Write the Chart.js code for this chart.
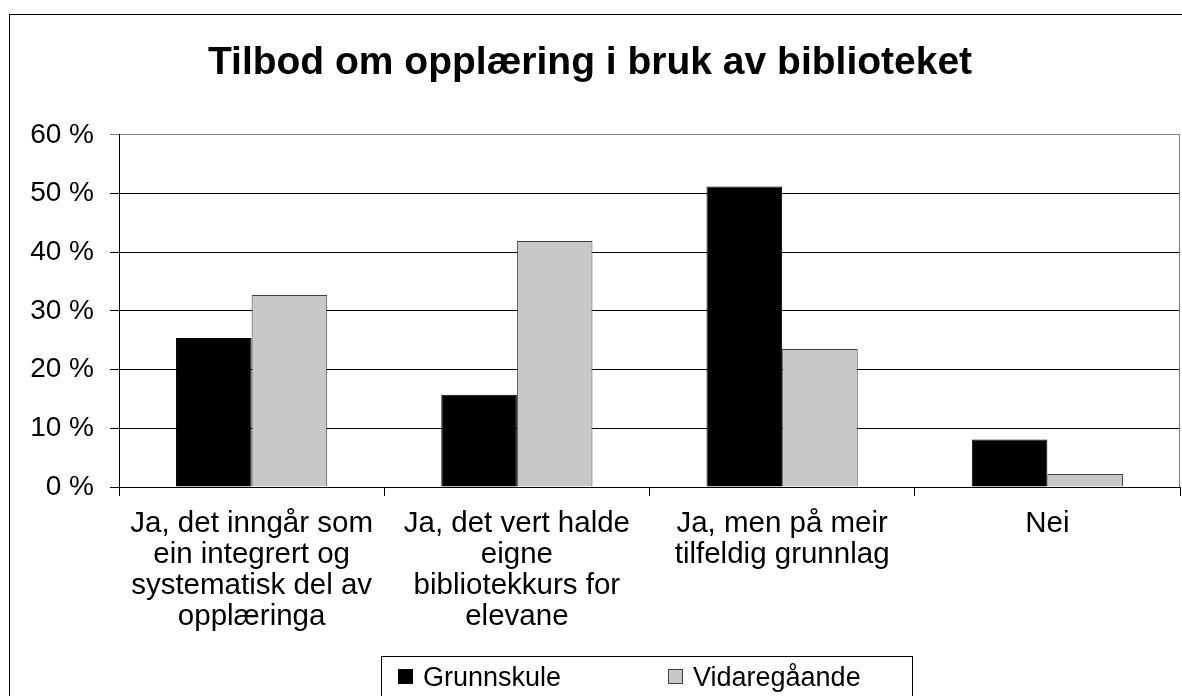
<!DOCTYPE html>
<html>
<head>
<meta charset="utf-8">
<title>Tilbod om opplæring i bruk av biblioteket</title>
<script src="https://cdn.jsdelivr.net/npm/chart.js@4"></script>
<style>
  html, body { margin: 0; padding: 0; background: #fff; overflow: hidden; }
  #wrap { position: relative; width: 1182px; height: 696px; }
</style>
</head>
<body>
<div id="wrap"><canvas id="chart"></canvas></div>
<script>
// Kategoriar (x-aksen), delt i linjer slik dei står i figuren
const kategoriar = [
    ['Ja, det inngår som', 'ein integrert og', 'systematisk del av', 'opplæringa'],
    ['Ja, det vert halde', 'eigne', 'bibliotekkurs for', 'elevane'],
    ['Ja, men på meir', 'tilfeldig grunnlag'],
    ['Nei']
];

// Prosentdelar lesne av figuren
const grunnskule = [25.4, 15.7, 51.2, 8.1];
const vidaregaande = [32.7, 41.9, 23.5, 2.2];

// Y-aksen
const yMin = 0;
const yMax = 60;
const ySteg = 10;

const FONT = '"Liberation Sans", Arial, Helvetica, sans-serif';

// Ramme rundt heile diagrammet og grå kant på plottområdet
const rammePlugin = {
    id: 'ramme',
    afterDraw(chart) {
        const ctx = chart.ctx;
        const a = chart.chartArea;
        ctx.save();
        ctx.strokeStyle = '#808080';
        ctx.lineWidth = 1;
        ctx.beginPath();
        ctx.moveTo(Math.round(a.right) - 0.5, a.top);
        ctx.lineTo(Math.round(a.right) - 0.5, a.bottom);
        ctx.stroke();
        ctx.strokeStyle = '#000';
        ctx.strokeRect(9.5, 14.5, chart.width + 20, chart.height + 20);
        ctx.restore();
    }
};

// Forklaring i boks nedst, bygd frå datasetta
const forklaringPlugin = {
    id: 'forklaring',
    afterDraw(chart) {
        const ctx = chart.ctx;
        const posX = [398, 668];
        ctx.save();
        ctx.strokeStyle = '#000';
        ctx.lineWidth = 1;
        ctx.strokeRect(381.5, 656.5, 531, 60);
        ctx.font = '27px ' + FONT;
        ctx.textBaseline = 'alphabetic';
        ctx.textAlign = 'left';
        chart.data.datasets.forEach((ds, i) => {
            const x = posX[i];
            ctx.fillStyle = ds.backgroundColor;
            ctx.fillRect(x, 669, 15, 15);
            ctx.strokeStyle = ds.borderColor;
            ctx.strokeRect(x + 0.5, 669.5, 14, 14);
            ctx.fillStyle = '#000';
            ctx.fillText(ds.label, x + 25, 686);
        });
        ctx.restore();
    }
};

new Chart(document.getElementById('chart'), {
    type: 'bar',
    data: {
        labels: kategoriar,
        datasets: [
            {
                label: 'Grunnskule',
                data: grunnskule,
                backgroundColor: '#000000',
                borderColor: '#000000',
                borderWidth: 1
            },
            {
                label: 'Vidaregåande',
                data: vidaregaande,
                backgroundColor: '#c8c8c8',
                borderColor: '#404040',
                borderWidth: 1
            }
        ]
    },
    options: {
        responsive: true,
        maintainAspectRatio: false,
        animation: false,
        layout: { padding: { left: 0, right: 2, top: 0, bottom: 0 } },
        datasets: {
            bar: { categoryPercentage: 0.57, barPercentage: 1.0 }
        },
        scales: {
            x: {
                grid: {
                    offset: true,
                    drawOnChartArea: false,
                    drawTicks: true,
                    tickLength: 9,
                    color: '#000'
                },
                border: { color: '#000', width: 1 },
                ticks: {
                    color: '#000',
                    font: { family: FONT, size: 29.5, lineHeight: 1.05 },
                    padding: 12,
                    maxRotation: 0,
                    minRotation: 0,
                    autoSkip: false
                },
                afterFit(scale) { scale.height = 209; }
            },
            y: {
                min: yMin,
                max: yMax,
                grid: {
                    color: (c) => (c.tick && c.tick.value === yMax ? '#808080' : '#000'),
                    lineWidth: 1,
                    drawTicks: true,
                    tickLength: 9
                },
                border: { color: '#000', width: 1 },
                ticks: {
                    stepSize: ySteg,
                    color: '#000',
                    padding: 16,
                    font: { family: FONT, size: 28 },
                    callback: (v) => v + ' %'
                },
                afterFit(scale) { scale.width = 119; }
            }
        },
        plugins: {
            legend: { display: false },
            tooltip: { enabled: false },
            title: {
                display: true,
                text: 'Tilbod om opplæring i bruk av biblioteket',
                color: '#000',
                font: { family: FONT, size: 39, weight: 'bold', lineHeight: 1.2 },
                padding: { top: 40, bottom: 48 }
            }
        }
    },
    plugins: [rammePlugin, forklaringPlugin]
});
</script>
</body>
</html>
